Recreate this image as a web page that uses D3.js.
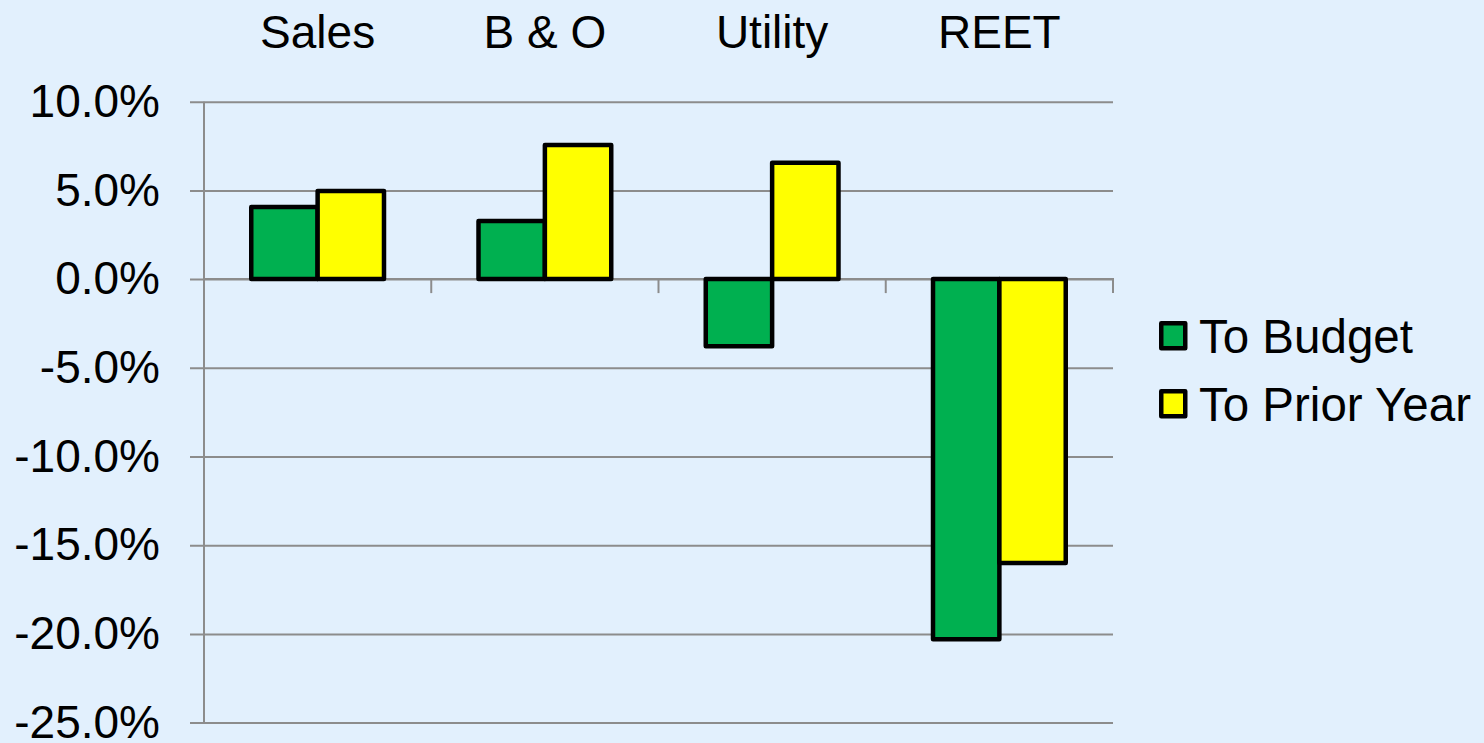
<!DOCTYPE html>
<html>
<head>
<meta charset="utf-8">
<script src="https://cdn.jsdelivr.net/npm/d3@7"></script>
<style>
  html, body { margin: 0; padding: 0; background: #E2F0FD; }
  svg { display: block; }
  text { font-family: "Liberation Sans", Arial, sans-serif; fill: #000; }
</style>
</head>
<body>
<svg id="chart" width="1484" height="743"></svg>
<script>
// Data
const categories = ["Sales", "B & O", "Utility", "REET"];
const seriesNames = ["To Budget", "To Prior Year"];
const toBudget = [4.06, 3.27, -3.78, -20.3];
const toPriorYear = [4.96, 7.56, 6.56, -16.0];
const yTicks = [10, 5, 0, -5, -10, -15, -20, -25];

const colors = ["#00B050", "#FFFF00"];

const svg = d3.select("svg#chart");

const plot = { left: 204, right: 1113, top: 101.7, bottom: 722.6 };

const x = d3.scaleBand()
  .domain(categories)
  .range([plot.left, plot.right])
  .paddingInner(0)
  .paddingOuter(0);

const xInner = d3.scaleBand()
  .domain(seriesNames)
  .range([0, x.bandwidth()])
  .paddingOuter(0.712);

const y = d3.scaleLinear()
  .domain([-25, 10])
  .range([plot.bottom, plot.top]);

const rows = categories.map((c, i) => ({
  cat: c,
  values: [toBudget[i], toPriorYear[i]]
}));

// hyphen minus like the original, not the unicode one
const pct = d => d3.format(".1f")(d).replace("\u2212", "-") + "%";

// Gridlines and y axis labels
const yAxis = d3.axisLeft(y)
  .tickValues(yTicks)
  .tickSize(0)
  .tickFormat(pct);

const yAxisG = svg.append("g")
  .attr("transform", `translate(${plot.right},0)`)
  .call(yAxis);

yAxisG.select(".domain").remove();
yAxisG.selectAll(".tick line")
  .attr("x1", plot.left - 14 - plot.right)
  .attr("x2", 0)
  .attr("stroke", "#8C8C8C")
  .attr("stroke-width", 2);
yAxisG.selectAll(".tick text")
  .attr("x", plot.left - 14 - plot.right - 30)
  .style("font-size", "46px")
  .attr("fill", "#000");

// Vertical axis line
svg.append("line")
  .attr("x1", plot.left).attr("x2", plot.left)
  .attr("y1", plot.top).attr("y2", plot.bottom)
  .attr("stroke", "#8C8C8C")
  .attr("stroke-width", 2);

// Category axis along zero
const xAxis = d3.axisBottom(x)
  .tickSize(14)
  .tickFormat("");

const xAxisG = svg.append("g")
  .attr("transform", `translate(0,${y(0)})`)
  .call(xAxis);

xAxisG.select(".domain")
  .attr("stroke", "#8C8C8C")
  .attr("stroke-width", 2)
  .attr("d", `M${plot.left},14V0H${plot.right}V14`);
xAxisG.selectAll(".tick").remove();

// boundary ticks between categories
svg.append("g")
  .selectAll("line")
  .data(categories)
  .enter()
  .append("line")
  .attr("x1", d => x(d))
  .attr("x2", d => x(d))
  .attr("y1", y(0))
  .attr("y2", y(0) + 14)
  .attr("stroke", "#8C8C8C")
  .attr("stroke-width", 2);

// Category labels on top
svg.append("g")
  .selectAll("text")
  .data(categories)
  .enter()
  .append("text")
  .attr("x", d => x(d) + x.bandwidth() / 2)
  .attr("y", 48)
  .attr("text-anchor", "middle")
  .style("font-size", "46px")
  .text(d => d);

// Bars
const groups = svg.append("g")
  .selectAll("g")
  .data(rows)
  .enter()
  .append("g")
  .attr("transform", d => `translate(${x(d.cat)},0)`);

groups.selectAll("rect")
  .data(d => d.values.map((v, i) => ({ v: v, name: seriesNames[i], i: i })))
  .enter()
  .append("rect")
  .attr("x", d => xInner(d.name))
  .attr("width", xInner.bandwidth())
  .attr("y", d => y(Math.max(0, d.v)))
  .attr("height", d => Math.abs(y(d.v) - y(0)))
  .attr("fill", d => colors[d.i])
  .attr("stroke", "#000")
  .attr("stroke-width", 4.5)
  .attr("stroke-linejoin", "round");

// Legend
const legend = svg.append("g")
  .attr("transform", "translate(1159,321)");

const legendItems = legend.selectAll("g")
  .data(seriesNames)
  .enter()
  .append("g")
  .attr("transform", (d, i) => `translate(0,${i * 68})`);

legendItems.append("rect")
  .attr("x", 2.25)
  .attr("y", 2.25)
  .attr("width", 24)
  .attr("height", 25)
  .attr("fill", (d, i) => colors[i])
  .attr("stroke", "#000")
  .attr("stroke-width", 4.5)
  .attr("stroke-linejoin", "round");

legendItems.append("text")
  .attr("x", 40)
  .attr("y", 32)
  .style("font-size", "47.5px")
  .text(d => d);
</script>
</body>
</html>
